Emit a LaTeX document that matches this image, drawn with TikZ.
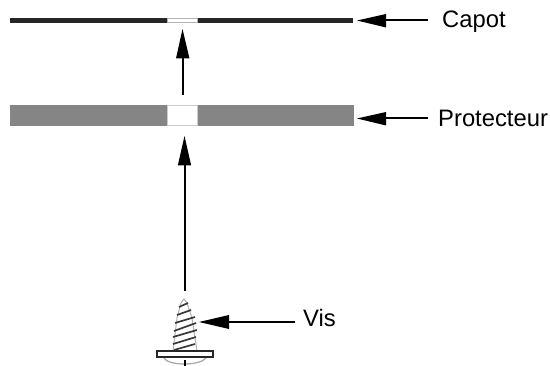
\documentclass[tikz,border=0pt]{standalone}
\usepackage{fontspec}
\setmainfont{Liberation Sans}
\tikzset{
  px/.style={x=1pt,y=-1pt},
  lead/.style={line width=2pt,black},
  head/.style={fill=black,draw=none},
  lbl/.style={inner sep=0pt,font=\fontsize{23.8}{26}\selectfont,anchor=base west},
  thread/.style={line width=1.7pt,draw=black!78},
}
\begin{document}
\begin{tikzpicture}[px]
\useasboundingbox (0,0) rectangle (550,366);
% capot
\fill[black!85] (10,18) rectangle (353,23);
\fill[white,draw=black!30,line width=1pt] (167.5,18.5) rectangle (197,22.5);
% protecteur
\fill[black!48] (10,105) rectangle (354,126);
\fill[white,draw=black!20,line width=1.2pt] (167.5,105.5) rectangle (197.5,125.5);
% screw
\draw[black!30,line width=1pt] (173,351) -- (177,318) -- (181,303) -- (184,299) -- (187,303) -- (192,318) -- (197,351);
\draw[black!35,line width=1.2pt] (164,358) .. controls (168,366) and (200,366) .. (206,358);
\foreach \xa/\ya/\xb/\yb in {179/307/188/303, 177/315/191/310, 175/323/195/317, 174/331/196/323, 173/337/197/330, 173/344/196/337, 174/350/195/344}{
  \draw[thread] (\xa,\ya) -- (\xb,\yb);
}
\draw[black!85,fill=white,line width=2pt] (157,351.5) rectangle (213,357);
\draw[line width=2pt] (184.5,360) -- (184.5,366);
% arrows
\coordinate (a1s) at (182.5,95); \coordinate (a1b) at (182.5,58); \coordinate (a1t) at (182.5,29);
\draw[lead] (a1s) -- (a1b);
\fill[head] (a1t) -- (176,58.5) -- (189.5,58.5) -- cycle;
\coordinate (a2s) at (184.5,291); \coordinate (a2b) at (184.5,165); \coordinate (a2t) at (184.5,136);
\draw[lead] (a2s) -- (a2b);
\fill[head] (a2t) -- (177.8,165.5) -- (191.2,165.5) -- cycle;
\node[lbl] (capot) at (442,28) {Capot};
\node[lbl] (prot) at (438,126.5) {Protecteur};
\node[lbl] (vis) at (303,327) {Vis};
\draw[lead] (428,20.5) -- (386,20.5);
\fill[head] (357,20.5) -- (386,14) -- (386,27.5) -- cycle;
\draw[lead] (428,118.5) -- (386,118.5);
\fill[head] (357,118.5) -- (386,112) -- (386,125.5) -- cycle;
\draw[lead] (295,322) -- (229,322);
\fill[head] (199,322) -- (229,315) -- (229,329) -- cycle;
\end{tikzpicture}
\end{document}
